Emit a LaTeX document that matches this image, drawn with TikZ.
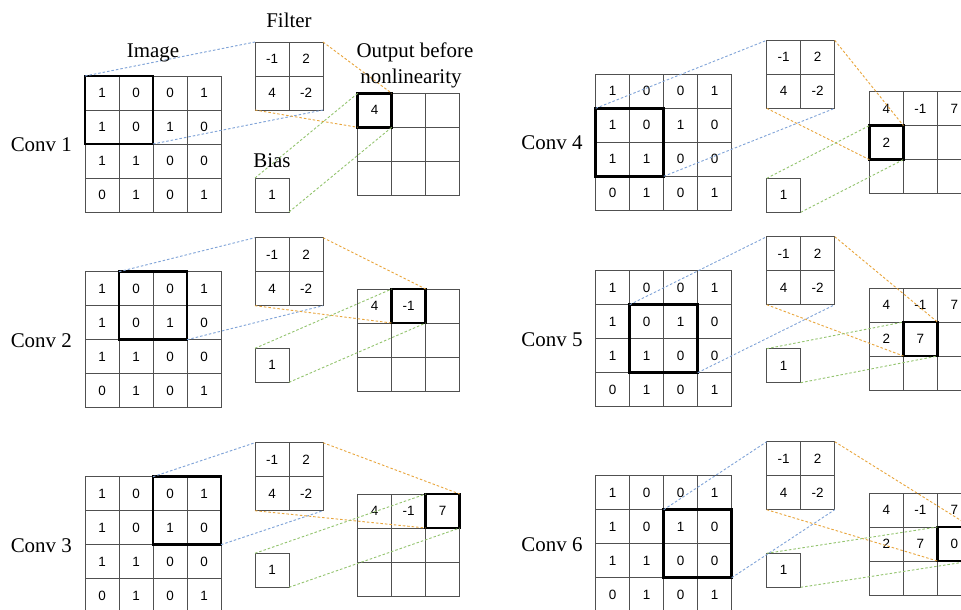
\documentclass[tikz,border=0pt]{standalone}
\usepackage{fontspec}
\setmainfont{Liberation Serif}
\newfontfamily\sansnum{Liberation Sans}
\definecolor{gridgray}{HTML}{505050}
\definecolor{lblue}{HTML}{7FA3D8}
\definecolor{lorange}{HTML}{E9A53B}
\definecolor{lgreen}{HTML}{93C46E}
\newcommand\imgvals{0/0/1,1/0/0,2/0/0,3/0/1,0/1/1,1/1/0,2/1/1,3/1/0,0/2/1,1/2/1,2/2/0,3/2/0,0/3/0,1/3/1,2/3/0,3/3/1}
\newcommand\filtvals{0/0/-1,1/0/2,0/1/4,1/1/-2}
\newcommand\numf{\sansnum\fontsize{13.5}{16}\selectfont}
\newcommand\lblf{\fontsize{21}{25}\selectfont}
\tikzset{
  cell/.style={draw=gridgray, line width=0.9bp, minimum size=34bp, inner sep=0pt, outer sep=0pt, font=\numf},
  numtext/.style={inner sep=0pt, font=\numf},
  hlbox/.style={draw=black, line width=2.6bp, minimum size=#1, inner sep=0pt, outer sep=0pt},
  framebox/.style={minimum size=68bp, inner sep=0pt, outer sep=0pt},
  conn/.style={line width=0.9bp, dash pattern=on 2.5bp off 2bp},
  blueconn/.style={conn, draw=lblue},
  orangeconn/.style={conn, draw=lorange},
  greenconn/.style={conn, draw=lgreen},
  lbl/.style={font=\lblf, inner sep=0pt},
}
% #1 name, #2 x, #3 y, #4 bias dy, #5 hl col, #6 hl row, #7 outputs c/r/v, #8 label, #9 filter dx
\newcommand\convpanel[9]{%
  \foreach \c/\r/\v in \imgvals {\node[cell] (#1-i-\r-\c) at ({#2+17+34*\c},{#3+17+34*\r}) {\v};}
  \foreach \c/\r/\v in \filtvals {\node[cell] (#1-f-\r-\c) at ({#2+#9+17+34*\c},{#3-34+17+34*\r}) {\v};}
  \node[framebox] (#1-f) at ({#2+#9+34},{#3}) {};
  \node[cell] (#1-b) at ({#2+#9+17},{#3+#4+17}) {1};
  \foreach \c in {0,1,2} {\foreach \r in {0,1,2} {\node[cell] (#1-o-\r-\c) at ({#2+#9+102.7+17+34*\c},{#3+17.3+17+34*\r}) {};}}
  \foreach \c/\r/\v in {#7} {\node[numtext] (#1-ov-\r-\c) at (#1-o-\r-\c) {\v};}
  \node[hlbox=68bp] (#1-hl) at ({#2+34+34*#5},{#3+34+34*#6}) {};
  \node[hlbox=34bp] (#1-ohl) at ({#2+#9+102.7+17+34*#5},{#3+17.3+17+34*#6}) {};
  \node[lbl, anchor=base east] (#1-lbl) at ({#2-13},{#3+75.5}) {#8};
  \draw[blueconn] (#1-hl.north west) -- (#1-f.north west);
  \draw[blueconn] (#1-hl.south east) -- (#1-f.south east);
  \draw[orangeconn] (#1-f.north east) -- (#1-ohl.north east);
  \draw[orangeconn] (#1-f.south west) -- (#1-ohl.south west);
  \draw[greenconn] (#1-b.north west) -- (#1-ohl.north west);
  \draw[greenconn] (#1-b.south east) -- (#1-ohl.south east);
}
\begin{document}
\begin{tikzpicture}[x=1bp, y=-1bp]
  \clip (0,0) rectangle (961,610);
  \fill[white] (0,0) rectangle (961,610);
  \convpanel{a}{85}{76}{102}{0}{0}{0/0/4}{Conv 1}{170}
  \convpanel{b}{85}{271.7}{76.6}{1}{0}{0/0/4,1/0/-1}{Conv 2}{170}
  \convpanel{c}{85}{476.7}{76.6}{2}{0}{0/0/4,1/0/-1,2/0/7}{Conv 3}{170}
  \convpanel{d}{595.7}{74.3}{104}{0}{1}{0/0/4,1/0/-1,2/0/7,0/1/2}{Conv 4}{171}
  \convpanel{e}{595.7}{270.7}{78}{1}{1}{0/0/4,1/0/-1,2/0/7,0/1/2,1/1/7}{Conv 5}{171}
  \convpanel{f}{595.7}{475.7}{77.6}{2}{1}{0/0/4,1/0/-1,2/0/7,0/1/2,1/1/7,2/1/0}{Conv 6}{171}
  \node[lbl, anchor=base] (imglbl) at (153,57.3) {Image};
  \node[lbl, anchor=base] (filtlbl) at (289,27.7) {Filter};
  \node[lbl, anchor=base] (outlbl1) at (415,57.3) {Output before};
  \node[lbl, anchor=base] (outlbl2) at (411,83.3) {nonlinearity};
  \node[lbl, anchor=base] (biaslbl) at (272,167.7) {Bias};
\end{tikzpicture}
\end{document}
